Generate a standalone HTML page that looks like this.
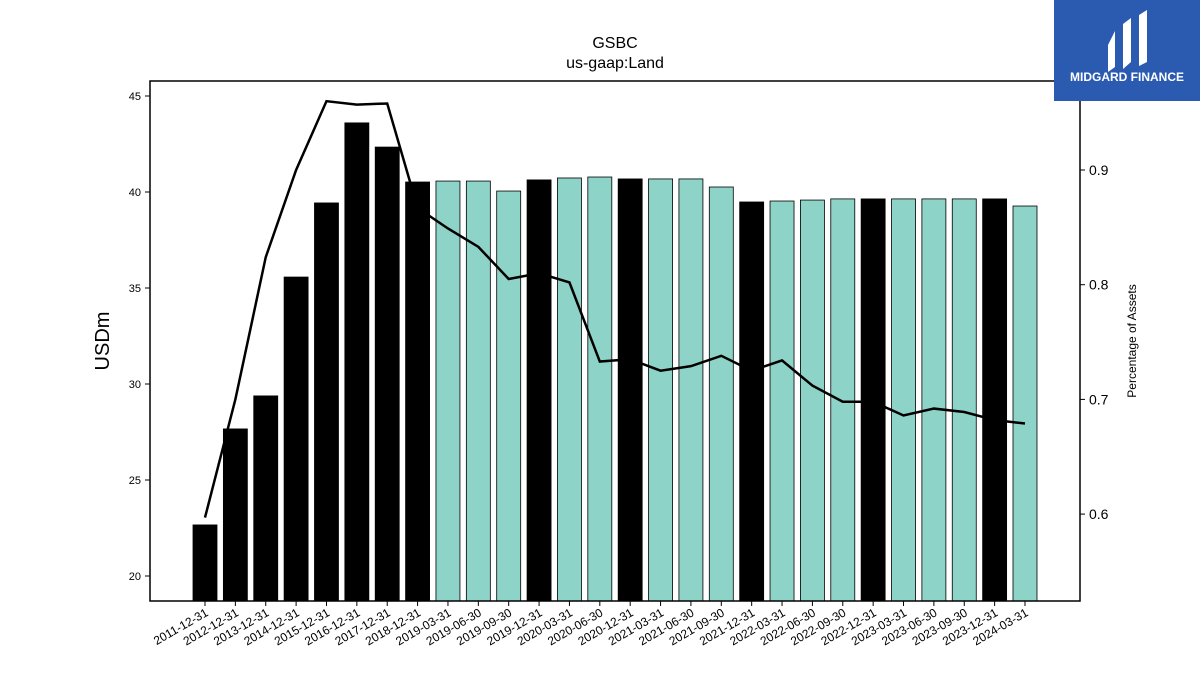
<!DOCTYPE html>
<html><head><meta charset="utf-8"><style>
body{margin:0;background:#fff;font-family:"Liberation Sans","DejaVu Sans",sans-serif}
</style></head><body>
<svg width="1200" height="675" xmlns="http://www.w3.org/2000/svg">
<g id="plot"></g>
<rect x="1054" y="0" width="146" height="101" fill="#2b5bb0"/>
<g fill="#fff">
<path d="M1108 45 L1115 31 L1115 67 L1108 72 Z"/>
<path d="M1123 24 L1131 18 L1131 62 L1123 69 Z"/>
<path d="M1139 15 L1147 10 L1147 62 L1139 66 Z"/>
</g>
<text x="1127" y="81" fill="#fff" font-size="12" font-weight="bold" text-anchor="middle">MIDGARD FINANCE</text>
<text x="615" y="48" font-size="16" text-anchor="middle">GSBC</text>
<text x="615" y="68" font-size="16" text-anchor="middle">us-gaap:Land</text>
<text transform="translate(109,341) rotate(-90)" font-size="20" text-anchor="middle">USDm</text>
<text transform="translate(1136,341) rotate(-90)" font-size="12" text-anchor="middle">Percentage of Assets</text>
</svg>
<script>
const categories=["2011-12-31","2012-12-31","2013-12-31","2014-12-31","2015-12-31","2016-12-31","2017-12-31","2018-12-31","2019-03-31","2019-06-30","2019-09-30","2019-12-31","2020-03-31","2020-06-30","2020-12-31","2021-03-31","2021-06-30","2021-09-30","2021-12-31","2022-03-31","2022-06-30","2022-09-30","2022-12-31","2023-03-31","2023-06-30","2023-09-30","2023-12-31","2024-03-31"];
const landValues=[22.66,27.66,29.38,35.57,39.43,43.6,42.34,40.52,40.57,40.57,40.05,40.63,40.73,40.78,40.68,40.68,40.68,40.26,39.48,39.53,39.58,39.64,39.64,39.64,39.64,39.64,39.64,39.27];
const pctAssets=[0.597,0.70,0.824,0.90,0.96,0.957,0.958,0.867,0.849,0.833,0.805,0.810,0.802,0.733,0.735,0.725,0.729,0.738,0.725,0.734,0.712,0.698,0.698,0.686,0.692,0.689,0.682,0.679];
const leftTicks=[20,25,30,35,40,45];
const rightTicks=[0.6,0.7,0.8,0.9];
const NS="http://www.w3.org/2000/svg";
const g=document.getElementById('plot');
const L=150,R=1080,T=81,B=601;
const yL=v=>96+(45-v)*19.2;
const yR=v=>170+(0.9-v)*1147;
const step=820/(categories.length-1);
const xC=i=>205+i*step;
function mk(t,a){const e=document.createElementNS(NS,t);for(const k in a)e.setAttribute(k,a[k]);g.appendChild(e);return e;}
landValues.forEach((v,i)=>{
  const annual=categories[i].endsWith('12-31');
  const r=mk('rect',{x:xC(i)-12,y:yL(v),width:24,height:B-yL(v),fill:annual?'#000':'#8dd3c7',stroke:'#000','stroke-width':0.8});
  
  
  const tk=mk('line',{x1:xC(i),x2:xC(i),y1:B,y2:B+5,stroke:'#000'});
  
  
  const t=mk('text',{transform:`translate(${xC(i)+4},${B+14}) rotate(-30)`,'font-size':12,'text-anchor':'end'});
  t.textContent=categories[i];
  
  
});
const pl=mk('polyline',{points:pctAssets.map((v,i)=>xC(i)+','+yR(v)).join(' '),fill:'none',stroke:'#000','stroke-width':2.5});


const fr=mk('rect',{x:L,y:T,width:R-L,height:B-T,fill:'none',stroke:'#000','stroke-width':1.5});


leftTicks.forEach(v=>{
  const l=mk('line',{x1:L-5,x2:L,y1:yL(v),y2:yL(v),stroke:'#000'});
  
  
  const t=mk('text',{x:L-9,y:yL(v)+4,'font-size':11,'text-anchor':'end'});
  t.textContent=v;
  
  
});
rightTicks.forEach(v=>{
  const l=mk('line',{x1:R,x2:R+5,y1:yR(v),y2:yR(v),stroke:'#000'});
  
  
  const t=mk('text',{x:R+9,y:yR(v)+5,'font-size':14});
  t.textContent=v.toFixed(1);
  
  
});
</script>
</body></html>
